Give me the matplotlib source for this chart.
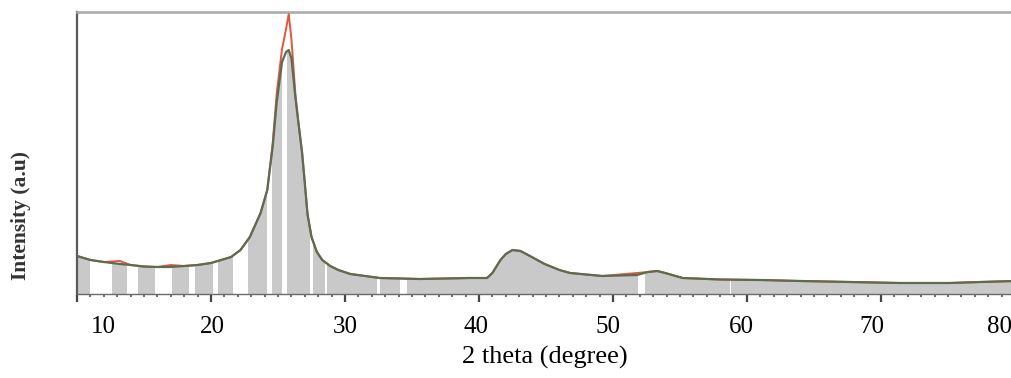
import numpy as np
import matplotlib
matplotlib.use("Agg")
import matplotlib.pyplot as plt
from matplotlib.ticker import MultipleLocator
from matplotlib.transforms import ScaledTranslation

# XRD pattern: 2-theta (degree) and intensity (a.u.)
two_theta = [10.0, 11.0, 12.0, 13.2, 14.0, 15.0, 16.0, 17.0, 18.0, 19.0,
             20.0, 21.0, 21.5, 22.2, 22.9, 23.7, 24.2, 24.6, 24.9, 25.3,
             25.6, 25.8, 26.0, 26.3, 26.5, 26.8, 27.0, 27.2, 27.5, 27.9,
             28.3, 28.9, 29.5, 30.4, 32.6, 35.6, 39.3, 40.6, 41.0, 41.6,
             42.0, 42.5, 43.1, 43.8, 44.9, 46.0, 46.8, 49.2, 51.8, 52.6,
             53.3, 53.9, 55.2, 58.0, 61.0, 64.0, 67.7, 71.4, 75.1, 77.4,
             80.0]
fitted = [38, 34, 32, 30, 29, 27.5, 27, 27, 28, 29,
          31, 35, 37, 44, 57, 81, 104, 147, 191, 232,
          242, 244, 236, 196, 174, 141, 111, 80, 57, 42,
          34, 28, 24, 20, 16, 15, 16, 16, 21, 34,
          40, 44, 43, 38, 30, 24, 21, 18, 19, 22,
          23, 21, 16, 14.5, 14, 13, 12, 11, 11, 12,
          13]
observed = [38, 34, 32, 33, 29, 27.5, 27, 29, 28, 29,
            31, 35, 37, 44, 57, 81, 104, 150, 200, 245,
            265, 280, 255, 200, 174, 141, 111, 80, 57, 42,
            34, 28, 24, 20, 16, 15, 16, 16, 21, 34,
            40, 44, 43, 38, 30, 24, 21, 18, 21, 22,
            23, 21, 16, 14.5, 14, 13, 12, 11, 11, 12,
            13]

# white separators cut into the shaded area (2-theta ranges)
gap_start = [10.97, 13.73, 15.82, 18.36, 20.15, 21.64, 24.18, 25.30, 27.39,
             28.51, 32.39, 34.10, 51.87, 58.73]
gap_end = [12.61, 14.55, 17.09, 18.81, 20.52, 22.76, 24.55, 25.67, 27.61,
           28.66, 32.61, 34.63, 52.39, 58.81]

tick_values = [10, 20, 30, 40, 50, 60, 70, 80]
tick_labels = ["10", "20", "30", "40", "50", "60", "70", "80"]

fig = plt.figure(figsize=(10.11, 3.78), dpi=100)
ax = fig.add_axes([77 / 1011, 84 / 378, 938 / 1011, 282 / 378])

area = ax.fill_between(two_theta, 0, fitted, color="#c9c9c9", lw=0, zorder=1)
clip = area.get_paths()[0]
for a, b in zip(gap_start, gap_end):
    span = ax.axvspan(a, b, color="white", lw=0, zorder=2)
    span.set_clip_path(clip, ax.transData)

ax.plot(two_theta, observed, color="#e2553f", lw=1.4, zorder=3)
ax.plot(two_theta, fitted, color="#5d6b50", lw=1.6, zorder=4)

ax.set_xlim(10, 80)
ax.set_ylim(0, 282)

ax.spines["right"].set_visible(False)
ax.spines["left"].set_color("#5a5a5a")
ax.spines["left"].set_linewidth(1.6)
ax.spines["top"].set_color("#a8a8a8")
ax.spines["top"].set_linewidth(1.8)
ax.spines["bottom"].set_color("#6a6a6a")
ax.spines["bottom"].set_linewidth(1.0)

ax.set_yticks([])
ax.set_xticks(tick_values)
ax.set_xticklabels(tick_labels, family="Liberation Serif", fontsize=18)
ax.xaxis.set_minor_locator(MultipleLocator(1))
ax.tick_params(axis="x", which="major", direction="out", length=6, width=1.6,
               color="#444444", pad=10)
ax.tick_params(axis="x", which="minor", direction="out", length=2.5, width=1.2,
               color="#555555")

# shift individual labels horizontally (pixels)
shift_px = [26, 1, 0, -3, -5, -6, -9, -15]
for lab, dx in zip(ax.get_xticklabels(), shift_px):
    lab.set_transform(lab.get_transform() + ScaledTranslation(dx / 100, 0, fig.dpi_scale_trans))

ax.set_xlabel("2 theta (degree)", family="Liberation Serif", fontsize=19)
ax.xaxis.label.set_va("center")
ax.xaxis.set_label_coords((545 - 77) / 938, (294 - 357) / 282)

fig.text(21 / 1011, 1 - 216 / 378, "Intensity (a.u)", rotation=90,
         family="Liberation Serif", fontweight="bold", fontsize=15.5,
         ha="center", va="center", color="#333333")

fig.savefig("out.png", dpi=100)
